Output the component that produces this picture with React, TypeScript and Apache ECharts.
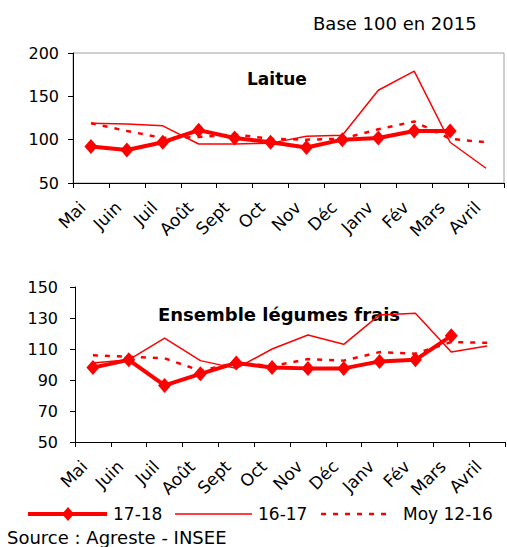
import React, { useEffect, useRef } from "react";
import * as echarts from "echarts";

const months = ["Mai", "Juin", "Juil", "Août", "Sept", "Oct", "Nov", "Déc", "Janv", "Fév", "Mars", "Avril"];
const seriesNames = ["17-18", "16-17", "Moy 12-16"];

const laitue1718 = [92, 88, 97, 111, 102, 97, 91, 100, 102, 110, 110, null];
const laitue1617 = [119, 118, 116, 95, 95, 96, 104, 105, 157, 179, 97, 67];
const laitueMoy = [119, 110, 102, 103, 106, 101, 100, 101, 112, 121, 101, 97];

const ensemble1718 = [98, 103, 86.5, 94, 101, 98, 97.5, 97.5, 102, 103, 118.5, null];
const ensemble1617 = [101, 103, 117, 102.5, 97.5, 110, 119, 113, 132, 133, 108, 112];
const ensembleMoy = [106, 105, 104, 96, 101, 99, 103.5, 102.5, 108, 107, 114.5, 114];

const topTicks = { min: 50, max: 200, interval: 50 };
const bottomTicks = { min: 50, max: 150, interval: 20 };

const FONT = "DejaVu Sans";
const RED = "#ff0000";

export default function App() {
  const ref = useRef<HTMLDivElement>(null);
  useEffect(() => {
    document.body.style.margin = "0";
    const chart = echarts.init(ref.current!, null, { renderer: "svg" });
    const xAxisCommon = {
      type: "category",
      data: months,
      boundaryGap: true,
      axisLine: { lineStyle: { color: "#000", width: 1 } },
      axisTick: { show: true, interval: 0, length: 5, lineStyle: { color: "#000" } },
      axisLabel: { interval: 0, rotate: 45, fontSize: 17, fontFamily: FONT, color: "#000", margin: 13, padding: [0, 12, 0, 0] },
      splitLine: { show: false },
    };
    const yAxisCommon = {
      type: "value",
      axisLine: { show: true, lineStyle: { color: "#000", width: 1 } },
      axisTick: { show: true, length: 5, lineStyle: { color: "#000" } },
      axisLabel: { fontSize: 16, fontFamily: FONT, color: "#000" },
      splitLine: { show: false },
    };
    const mk = (name: string, data: (number | null)[], idx: number) => {
      const base: any = { name, type: "line", data, xAxisIndex: idx, yAxisIndex: idx, color: RED };
      if (name === "17-18") {
        return {
          ...base,
          symbol: "diamond",
          symbolSize: [13, 15],
          showSymbol: true,
          lineStyle: { color: RED, width: 4 },
          itemStyle: { color: RED },
          z: 5,
        };
      }
      if (name === "16-17") {
        return { ...base, symbol: "none", lineStyle: { color: RED, width: 1.5 }, itemStyle: { color: RED }, z: 4 };
      }
      return {
        ...base,
        symbol: "none",
        lineStyle: { color: RED, width: 2.5, type: [5, 7] },
        itemStyle: { color: RED },
        z: 3,
      };
    };
    const ly = 514;
    const legendText = (x: number, text: string) => ({
      type: "text",
      x,
      y: ly,
      style: { text, fontSize: 17, fontFamily: FONT, fill: "#000", verticalAlign: "middle" },
    });
    chart.setOption({
      animation: false,
      backgroundColor: "#fff",
      textStyle: { fontFamily: FONT },
      grid: [
        { left: 73, right: 3, top: 53, height: 130, show: true, borderColor: "#a0a0a0", borderWidth: 1, backgroundColor: "transparent" },
        { left: 75, right: 2, top: 287, height: 155, show: false },
      ],
      xAxis: [
        { ...xAxisCommon, gridIndex: 0 },
        { ...xAxisCommon, gridIndex: 1 },
      ],
      yAxis: [
        { ...yAxisCommon, gridIndex: 0, ...topTicks, axisLabel: { ...yAxisCommon.axisLabel, margin: 14 } },
        { ...yAxisCommon, gridIndex: 1, ...bottomTicks, axisLabel: { ...yAxisCommon.axisLabel, margin: 17 } },
      ],
      graphic: [
        { type: "text", left: 313, top: 14, style: { text: "Base 100 en 2015", fontSize: 18, fontFamily: FONT, fill: "#000" } },
        { type: "text", left: 247, top: 70, style: { text: "Laitue", fontSize: 17, fontWeight: "bold", fontFamily: FONT, fill: "#000" } },
        { type: "text", left: 158, top: 305, style: { text: "Ensemble légumes frais", fontSize: 18, fontWeight: "bold", fontFamily: FONT, fill: "#000" } },
        { type: "text", left: 7, top: 528, style: { text: "Source : Agreste - INSEE", fontSize: 18, fontFamily: FONT, fill: "#000" } },
        { type: "line", shape: { x1: 28, y1: ly, x2: 107, y2: ly }, style: { stroke: RED, lineWidth: 4 } },
        { type: "polygon", shape: { points: [[68, ly - 7], [74, ly], [68, ly + 7], [62, ly]] }, style: { fill: RED } },
        legendText(113, seriesNames[0]),
        { type: "line", shape: { x1: 175, y1: ly, x2: 252, y2: ly }, style: { stroke: RED, lineWidth: 1.5 } },
        legendText(258, seriesNames[1]),
        { type: "line", shape: { x1: 321, y1: ly, x2: 393, y2: ly }, style: { stroke: RED, lineWidth: 2.5, lineDash: [5, 7] } },
        legendText(403, seriesNames[2]),
      ],
      series: [
        mk("Moy 12-16", laitueMoy, 0),
        mk("16-17", laitue1617, 0),
        mk("17-18", laitue1718, 0),
        mk("Moy 12-16", ensembleMoy, 1),
        mk("16-17", ensemble1617, 1),
        mk("17-18", ensemble1718, 1),
      ],
    });
    return () => chart.dispose();
  }, []);
  return <div ref={ref} style={{ position: "absolute", left: 0, top: 0, width: 507, height: 547 }} />;
}
